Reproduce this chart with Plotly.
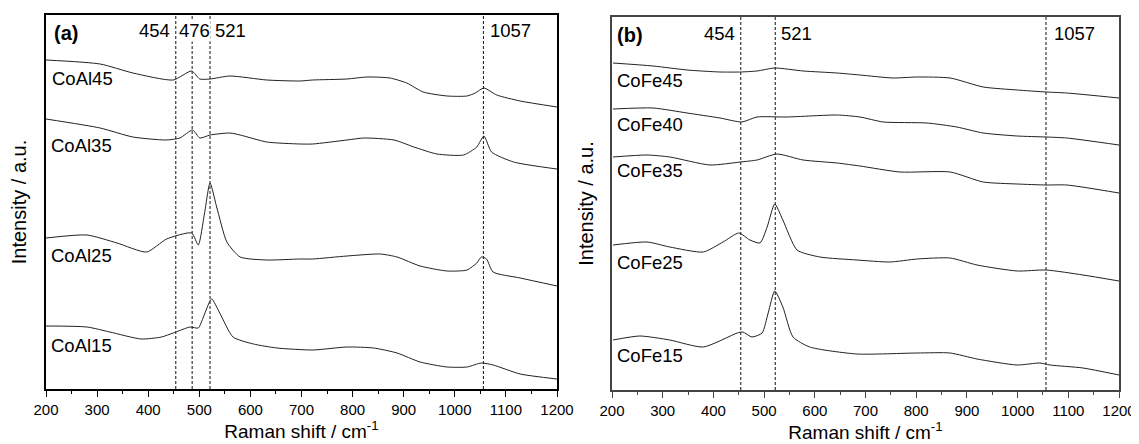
import plotly.graph_objects as go

### Data (Raman shift in cm-1, intensity in a.u. with offsets)
coal45_x = [200, 306, 370, 449, 485, 501, 521, 560, 632, 697, 722, 789, 828, 873, 906, 938, 985, 1024, 1040, 1057, 1082, 1128, 1200]
coal45_y = [329, 325, 316, 309, 318, 310, 310, 313, 309, 308, 309, 310, 312, 311, 306, 297, 293, 293, 296, 301, 294, 288, 282]

coal35_x = [200, 306, 370, 435, 462, 487, 501, 521, 560, 580, 632, 697, 722, 789, 822, 881, 920, 965, 1017, 1043, 1057, 1072, 1115, 1200]
coal35_y = [270, 261, 252, 249, 251, 259, 251, 254, 256, 254, 247, 245, 245, 249, 251, 249, 242, 235, 234, 242, 253, 237, 227, 220]

coal25_x = [200, 280, 339, 397, 436, 485, 498, 510, 521, 534, 554, 580, 632, 697, 722, 789, 854, 887, 932, 985, 1024, 1043, 1052, 1062, 1075, 1128, 1200]
coal25_y = [151, 154, 146, 137, 150, 156, 144, 175, 206, 182, 147, 132, 129, 130, 130, 133, 135, 132, 123, 118, 119, 126, 132, 130, 117, 111, 103]

coal15_x = [200, 280, 325, 386, 426, 449, 482, 498, 508, 524, 540, 566, 606, 652, 722, 789, 841, 887, 932, 985, 1024, 1052, 1075, 1128, 1200]
coal15_y = [63, 62, 57, 50, 52, 56, 62, 61, 72, 90, 76, 52, 45, 41, 39, 42, 41, 36, 27, 22, 22, 26, 24, 15, 10]

cofe45_x = [202, 281, 348, 413, 453, 486, 521, 577, 644, 689, 754, 802, 867, 932, 999, 1056, 1097, 1200]
cofe45_y = [327, 324, 320, 318, 318, 319, 322, 319, 317, 315, 312, 313, 312, 303, 300, 298, 297, 292]

cofe40_x = [202, 281, 348, 413, 456, 486, 545, 644, 689, 735, 821, 880, 932, 999, 1056, 1097, 1200]
cofe40_y = [281, 282, 277, 272, 268, 273, 273, 275, 273, 268, 267, 263, 257, 254, 253, 252, 245]

cofe35_x = [202, 269, 314, 393, 453, 486, 525, 577, 644, 689, 768, 867, 932, 999, 1056, 1097, 1200]
cofe35_y = [233, 235, 233, 225, 228, 230, 236, 230, 227, 224, 218, 218, 208, 206, 205, 205, 197]

cofe25_x = [202, 269, 314, 380, 419, 450, 472, 492, 506, 521, 537, 565, 610, 683, 748, 802, 867, 920, 999, 1056, 1129, 1200]
cofe25_y = [145, 148, 143, 138, 148, 157, 150, 147, 163, 186, 170, 140, 133, 130, 128, 131, 132, 125, 119, 120, 115, 109]

cofe15_x = [202, 255, 314, 380, 447, 458, 476, 496, 508, 521, 537, 557, 590, 683, 802, 867, 920, 999, 1044, 1064, 1129, 1200]
cofe15_y = [50, 54, 50, 43, 57, 58, 53, 57, 77, 99, 83, 53, 43, 36, 37, 37, 31, 25, 27, 25, 22, 15]

# curve labels: (name, x of left edge, y)
labels_a = [("CoAl45", 208, 310), ("CoAl35", 206, 243), ("CoAl25", 205, 133), ("CoAl15", 205, 44)]
labels_b = [("CoFe45", 206, 310), ("CoFe40", 206, 266), ("CoFe35", 206, 220), ("CoFe25", 206, 128), ("CoFe15", 206, 35)]

# dashed peak markers: (line position, label, label x, anchor)
peaks_a = [(454, "454", 447, "right"), (486, "476", 458, "left"), (521, "521", 527, "left"), (1056, "1057", 1065, "left")]
peaks_b = [(454, "454", 447, "right"), (522, "521", 529, "left"), (1056, "1057", 1068, "left")]

x_ticks = [200, 300, 400, 500, 600, 700, 800, 900, 1000, 1100, 1200]

W, H = 1139, 444
OFF = 8  # page body margin shifts the figure by this much

def dom_x(left, right):
    return [(left - OFF) / W, (right - OFF) / W]

def dom_y(bottom, top):
    return [(H - (bottom - OFF)) / H, (H - (top - OFF)) / H]

dom_a_x = dom_x(46, 557)
dom_a_y = dom_y(389, 15)
dom_b_x = dom_x(612, 1119)
dom_b_y = dom_y(390, 17)

fig = go.Figure()

line_style = dict(color="#222222", width=1, shape="spline", smoothing=0.6)
for xs, ys in [(coal45_x, coal45_y), (coal35_x, coal35_y), (coal25_x, coal25_y), (coal15_x, coal15_y)]:
    fig.add_trace(go.Scatter(x=xs, y=ys, mode="lines", line=line_style, xaxis="x", yaxis="y", showlegend=False))
for xs, ys in [(cofe45_x, cofe45_y), (cofe40_x, cofe40_y), (cofe35_x, cofe35_y), (cofe25_x, cofe25_y), (cofe15_x, cofe15_y)]:
    fig.add_trace(go.Scatter(x=xs, y=ys, mode="lines", line=line_style, xaxis="x2", yaxis="y2", showlegend=False))

font_fam = "Liberation Sans, Arial, sans-serif"
ann = []
shapes = []
for (peaks, xr, yr, ymax) in [(peaks_a, "x", "y", 374), (peaks_b, "x2", "y2", 373)]:
    for pos, txt, lx, anchor in peaks:
        shapes.append(dict(type="line", xref=xr, yref=yr, x0=pos, x1=pos, y0=0, y1=ymax,
                           line=dict(color="#111111", width=1, dash="3px,2px"), layer="below"))
        a = dict(text=txt, x=lx, y=ymax - 16, xref=xr, yref=yr, xanchor=anchor, yanchor="middle",
                 showarrow=False, font=dict(size=18.5, color="black", family=font_fam))
        if txt == "476":
            a["bgcolor"] = "white"
            a["borderpad"] = 0
        ann.append(a)

for name, lx, ly in labels_a:
    ann.append(dict(text=name, x=lx, y=ly, xref="x", yref="y", xanchor="left", yanchor="middle",
                    showarrow=False, font=dict(size=18.5, color="black", family=font_fam)))
for name, lx, ly in labels_b:
    ann.append(dict(text=name, x=lx, y=ly, xref="x2", yref="y2", xanchor="left", yanchor="middle",
                    showarrow=False, font=dict(size=18.5, color="black", family=font_fam)))

ann.append(dict(text="<b>(a)</b>", x=211, y=356, xref="x", yref="y", xanchor="left", yanchor="middle",
                showarrow=False, font=dict(size=20, color="black", family=font_fam)))
ann.append(dict(text="<b>(b)</b>", x=206, y=355, xref="x2", yref="y2", xanchor="left", yanchor="middle",
                showarrow=False, font=dict(size=20, color="black", family=font_fam)))

def xaxis_style(domain, anchor, color):
    return dict(domain=domain, anchor=anchor, range=[200, 1200], tickvals=x_ticks,
                ticks="outside", ticklen=6, tickcolor=color, tickwidth=1,
                minor=dict(dtick=50, tick0=200, ticks="outside", ticklen=3, tickcolor=color),
                showline=True, linecolor=color, linewidth=1.5, mirror=True, showgrid=False, zeroline=False,
                automargin=False,
                tickfont=dict(size=15, color="black", family=font_fam),
                title=dict(text="Raman shift / cm<sup>-1</sup>", font=dict(size=19, color="black", family=font_fam), standoff=6))

def yaxis_style(domain, anchor, color, ymax, standoff):
    return dict(domain=domain, anchor=anchor, range=[0, ymax], showticklabels=False, ticks="",
                showline=True, linecolor=color, linewidth=1.5, mirror=True, showgrid=False, zeroline=False,
                automargin=False,
                title=dict(text="Intensity / a.u.", font=dict(size=20, color="black", family=font_fam), standoff=standoff))

fig.update_layout(
    width=W, height=H,
    margin=dict(l=0, r=0, t=0, b=0, autoexpand=False),
    paper_bgcolor="white", plot_bgcolor="white",
    xaxis=xaxis_style(dom_a_x, "y", "black"),
    yaxis=yaxis_style(dom_a_y, "x", "black", 374, 12),
    xaxis2=xaxis_style(dom_b_x, "y2", "#444444"),
    yaxis2=yaxis_style(dom_b_y, "x2", "#444444", 373, 11),
    annotations=ann,
    shapes=shapes,
)

fig.write_html("out.html")
